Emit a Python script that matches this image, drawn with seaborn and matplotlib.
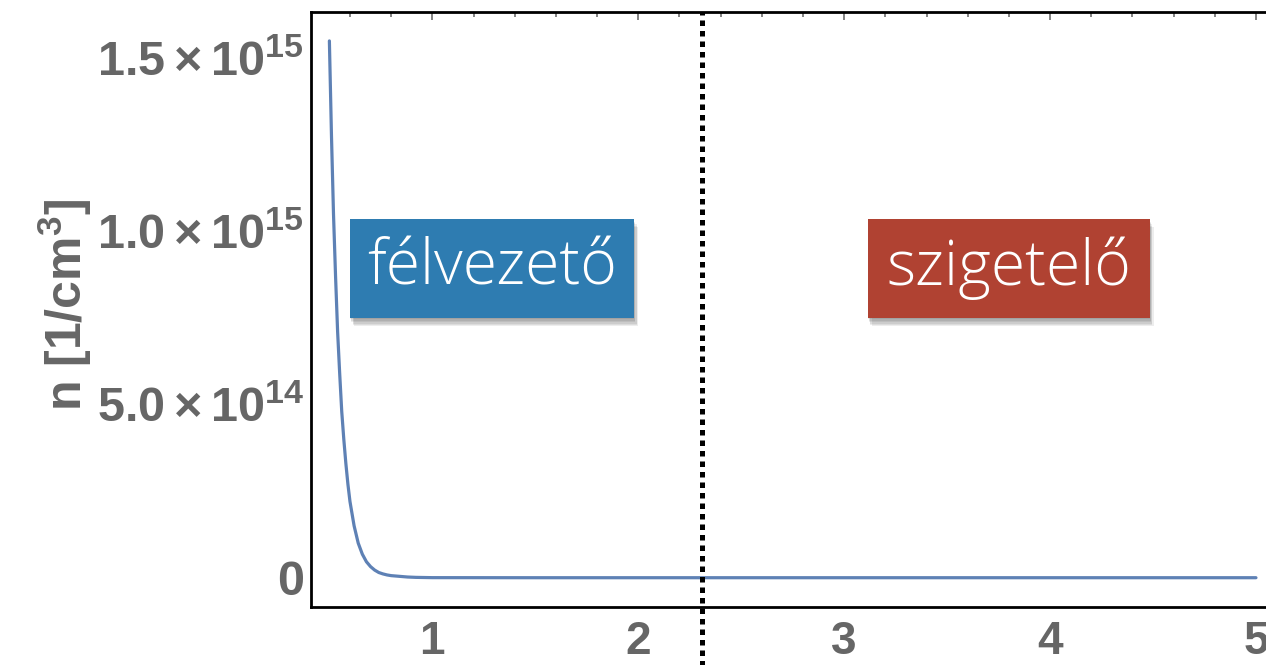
import matplotlib
matplotlib.use("Agg")
import matplotlib.pyplot as plt
import matplotlib.patheffects as pe
from matplotlib.patches import Rectangle
from matplotlib.ticker import FixedLocator, MultipleLocator, FuncFormatter
import seaborn as sns

# Band gap (eV) and intrinsic carrier density (1/cm^3)
band_gap = [0.50, 0.51, 0.52, 0.53, 0.54, 0.55, 0.56, 0.57, 0.58, 0.59,
            0.60, 0.62, 0.64, 0.66, 0.68, 0.70, 0.72, 0.74, 0.76, 0.78,
            0.80, 0.84, 0.88, 0.92, 1.00, 1.50, 2.00, 3.00, 4.00, 5.00]
carrier_density = [1.55e15, 1.28e15, 1.05e15, 0.87e15, 0.71e15, 0.59e15,
                   0.48e15, 0.40e15, 0.33e15, 0.27e15, 0.22e15, 0.15e15,
                   0.10e15, 0.068e15, 0.046e15, 0.032e15, 0.022e15,
                   0.015e15, 0.011e15, 0.008e15, 0.006e15, 0.004e15,
                   0.002e15, 0.001e15, 0.0002e15, 0.0, 0.0, 0.0, 0.0, 0.0]

# Boundary between semiconductors and insulators
boundary_gap = 2.31

# Region labels
region_labels = ["félvezető", "szigetelő"]
region_colors = ["#2e7cb1", "#b04232"]
region_x = [(0.600, 1.979), (3.114, 4.483)]
region_y = (0.750e15, 1.036e15)

x_ticks = [1, 2, 3, 4, 5]
y_ticks = [0.0, 5.0e14, 1.0e15, 1.5e15]
y_tick_labels = ["0", r"$5.0\times10^{14}$", r"$1.0\times10^{15}$", r"$1.5\times10^{15}$"]

sns.set_style("white")
plt.rcParams["font.family"] = ["Liberation Sans", "DejaVu Sans"]
plt.rcParams["mathtext.fontset"] = "custom"
plt.rcParams["mathtext.rm"] = "Liberation Sans:bold"
plt.rcParams["mathtext.bf"] = "Liberation Sans:bold"
plt.rcParams["mathtext.it"] = "Liberation Sans:bold"

label_gray = "#666666"
tick_gray = "#777777"

fig = plt.figure(figsize=(12.66, 6.65), dpi=100)
ax = fig.add_axes([0.2457, 0.0872, 0.7615, 0.895])

sns.lineplot(x=band_gap, y=carrier_density, ax=ax, color="#5e81b5",
             linewidth=2.3, estimator=None, sort=False, zorder=3)

ax.set_xlim(0.411, 5.093)
ax.set_ylim(-0.0846e15, 1.634e15)

# Frame
for side, spine in ax.spines.items():
    spine.set_visible(True)
    spine.set_color("black")
    spine.set_linewidth(2.0)

ax.xaxis.set_major_locator(FixedLocator(x_ticks))
ax.xaxis.set_minor_locator(MultipleLocator(0.2))
ax.yaxis.set_major_locator(FixedLocator(y_ticks))
ax.yaxis.set_minor_locator(MultipleLocator(1e14))
ax.set_xticklabels([str(t) for t in x_ticks])
ax.yaxis.set_major_formatter(FuncFormatter(
    lambda v, p: y_tick_labels[y_ticks.index(v)] if v in y_ticks else ""))

ax.tick_params(which="both", direction="in", top=True, right=True,
               color=tick_gray, width=1.3)
ax.tick_params(which="major", length=6)
ax.tick_params(which="minor", length=3.5)
ax.tick_params(axis="x", which="major", pad=9, labelsize=33,
               labelcolor=label_gray)
ax.tick_params(axis="y", which="major", pad=5, labelsize=35,
               labelcolor=label_gray)
for lbl in ax.get_xticklabels() + ax.get_yticklabels():
    lbl.set_fontweight("bold")

ax.set_xlabel("")
ax.set_ylabel(r"n [1/cm$^3$]", fontsize=36, fontweight="bold",
              color=label_gray)
ax.yaxis.set_label_coords(-0.225, 0.507)

# Dotted boundary line, running below the frame
ax.axvline(boundary_gap, ymin=-0.1, ymax=1.0, color="black", linewidth=3.6,
           linestyle=(0, (1.1, 1.0)), clip_on=False, zorder=4)

# Region labels with a soft drop shadow
shadow = [pe.SimplePatchShadow(offset=off, shadow_rgbFace="black", alpha=0.07)
          for off in [(0, -1), (1, -2), (1, -3), (2, -4), (2, -5), (3, -6)]]
for text, color, (x0, x1) in zip(region_labels, region_colors, region_x):
    rect = Rectangle((x0, region_y[0]), x1 - x0, region_y[1] - region_y[0],
                     facecolor=color, edgecolor="none", zorder=5)
    rect.set_path_effects(shadow + [pe.Normal()])
    ax.add_patch(rect)
    ax.text((x0 + x1) / 2, (region_y[0] + region_y[1]) / 2, text,
            ha="center", va="center", color="white", fontsize=45,
            family=["Open Sans", "DejaVu Sans"], fontweight="light",
            zorder=6)

fig.savefig("out.png", dpi=100)
